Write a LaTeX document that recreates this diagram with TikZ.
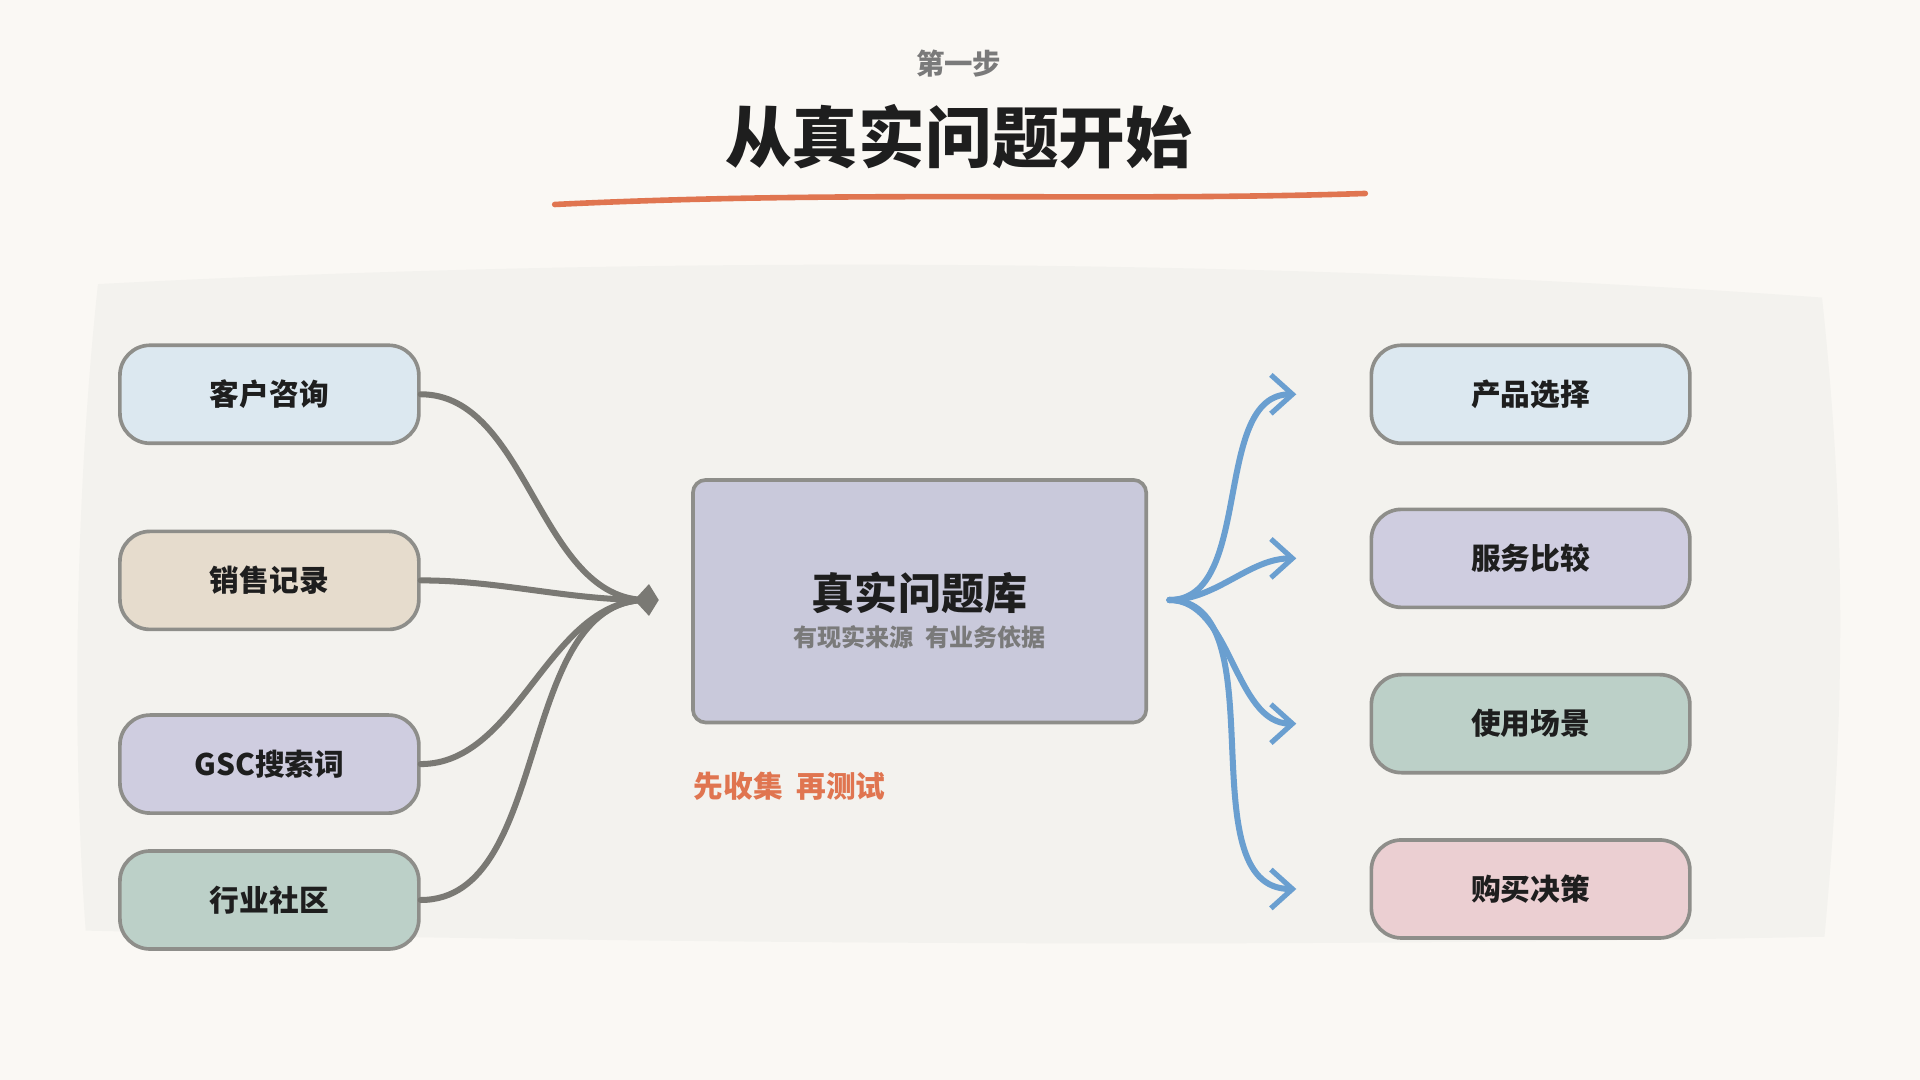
\documentclass[tikz,border=0pt]{standalone}
\usepackage{fontspec}
\setmainfont{Noto Sans CJK SC}
\usetikzlibrary{arrows.meta,positioning}
\definecolor{page}{HTML}{FAF8F4}
\definecolor{panel}{HTML}{F3F2EE}
\definecolor{edge}{HTML}{8E8E8A}
\definecolor{ink}{HTML}{1E1E1E}
\definecolor{muted}{HTML}{7A7A7A}
\definecolor{accent}{HTML}{E07550}
\definecolor{grayline}{HTML}{7A7974}
\definecolor{blueline}{HTML}{6A9FD0}
\definecolor{cblue}{HTML}{DCE8F0}
\definecolor{cbeige}{HTML}{E6DCCD}
\definecolor{clav}{HTML}{CFCDE0}
\definecolor{csage}{HTML}{BCD0C8}
\definecolor{cpink}{HTML}{EBCFD2}
\definecolor{ccore}{HTML}{C9C9DB}
\tikzset{
  box/.style={draw=edge, line width=0.85pt, rounded corners=7pt, minimum width=2.44cm,
    minimum height=0.8cm, inner sep=0pt, text=ink, font=\fontsize{6.9}{8}\selectfont\bfseries},
  wide/.style={box, minimum width=2.6cm},
  core/.style={draw=edge, line width=0.85pt, rounded corners=3pt, minimum width=3.7cm,
    minimum height=1.98cm, fill=ccore, inner sep=0pt},
  inflow/.style={draw=grayline, line width=1.4pt, line cap=round},
  outflow/.style={draw=blueline, line width=1.4pt, line cap=round,
    -{Straight Barb[length=5pt,width=9pt,line width=1.2pt]}},
  lab/.style={text=ink, font=\bfseries},
}
\begin{document}
\begin{tikzpicture}[x=0.01cm,y=-0.01cm]
  \fill[page] (0,0) rectangle (1568,882);
  \useasboundingbox (0,0) rectangle (1568,882);
  % panel
  \fill[panel] (80,232) .. controls (600,205) and (1100,215) .. (1488,243)
    .. controls (1510,450) and (1505,600) .. (1490,765)
    .. controls (1000,775) and (500,770) .. (70,760)
    .. controls (58,600) and (62,400) .. cycle;
  % heading
  \node[text=muted, font=\fontsize{6.6}{8}\selectfont\bfseries] (step) at (783,52) {第一步};
  \node[lab, font=\fontsize{15.5}{18}\selectfont\bfseries] (title) at (783,112) {从真实问题开始};
  \draw[accent, line width=1.3pt, line cap=round] (453,167) .. controls (700,155) and (900,165) .. (1115,158);
  % sources
  \node[box, fill=cblue] (s1) at (220,322) {客户咨询};
  \node[box, fill=cbeige] (s2) at (220,474) {销售记录};
  \node[box, fill=clav] (s3) at (220,624) {GSC搜索词};
  \node[box, fill=csage] (s4) at (220,735) {行业社区};
  % core
  \node[core] (lib) at (751,491) {};
  \node[lab, font=\fontsize{10}{12}\selectfont\bfseries] (libt) at (751,484) {真实问题库};
  \node[text=muted, font=\fontsize{5.6}{7}\selectfont\bfseries] (libs) at (751,520) {有现实来源\ \ 有业务依据};
  \node[text=accent, font=\fontsize{6.9}{8}\selectfont\bfseries] (note) at (645,642) {先收集\ \ 再测试};
  % targets
  \node[wide, fill=cblue] (t1) at (1250,322) {产品选择};
  \node[wide, fill=clav] (t2) at (1250,456) {服务比较};
  \node[wide, fill=csage] (t3) at (1250,591) {使用场景};
  \node[wide, fill=cpink] (t4) at (1250,726) {购买决策};
  \coordinate (hub) at (528,490);
  \coordinate (src) at (955,490);
  % in
  \foreach \s in {s1,s2,s3,s4}
    \draw[inflow] (\s.east) to[out=0,in=180,looseness=0.9] (hub);
  \fill[grayline] (hub) ++(-10,0) -- ++(12,-13) -- ++(8,13) -- ++(-8,13) -- cycle;
  % out
  \foreach \t in {t1,t2,t3,t4}
    \draw[outflow] (src) to[out=0,in=180,looseness=0.9] ([xshift=-17]\t.west);
\end{tikzpicture}
\end{document}
